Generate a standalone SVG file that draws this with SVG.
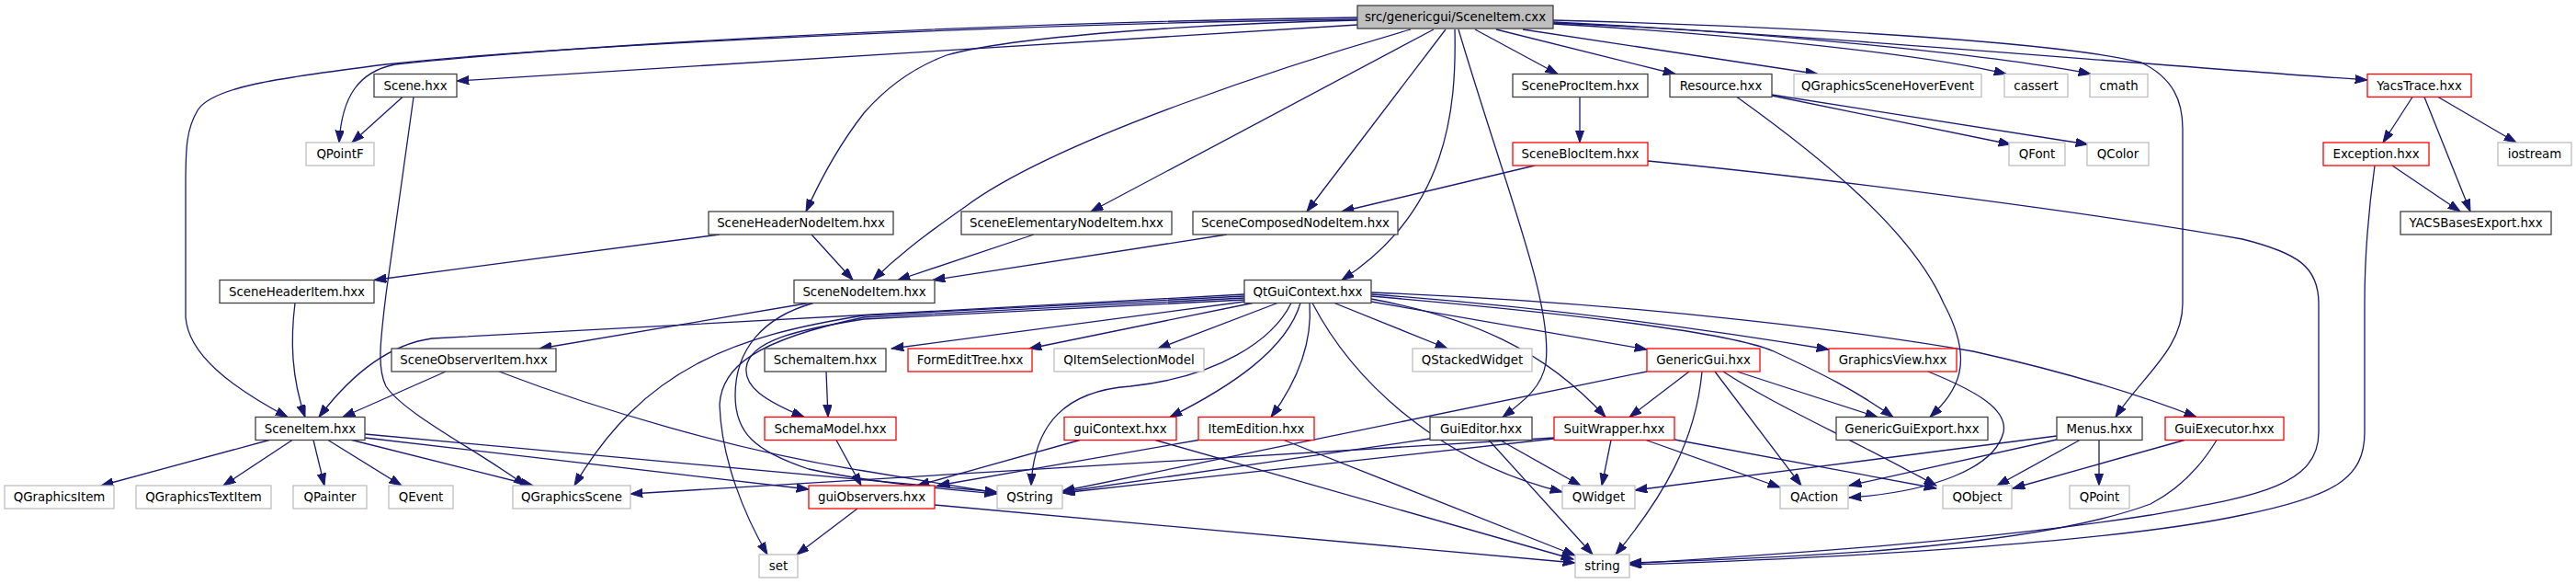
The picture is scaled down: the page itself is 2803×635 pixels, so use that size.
<svg xmlns="http://www.w3.org/2000/svg" width="2803" height="635" viewBox="0 0 2803 635">
<style>
.node rect{fill:#ffffff;stroke-width:1.3}
.b rect{stroke:#404040}
.g rect{stroke:#bfbfbf}
.r rect{stroke:#ff0000}
.root rect{fill:#bfbfbf;stroke:#404040}
.node text{font-family:"DejaVu Sans","Liberation Sans",sans-serif;font-size:13.33px;text-anchor:middle;fill:#000000}
#edges path{fill:none;stroke:#191970;stroke-width:1.3;marker-end:url(#ah)}
</style>
<defs>
<marker id="ah" markerUnits="userSpaceOnUse" markerWidth="14" markerHeight="10" refX="13.3" refY="4.67" orient="auto">
<path d="M0,0 L13.3,4.67 L0,9.33 z" fill="#191970" stroke="#191970" stroke-width="1"/>
</marker>
</defs>
<rect width="2803" height="635" fill="#ffffff"/>
<g id="edges">
<path d="M1477,21 C1100,26 600,50 420,70 C300,85 230,95 215,120 C203,140 202,160 202,200 L202,345 C205,385 250,420 313,453.5"/>
<path d="M1477,19 C1000,26 600,52 430,70 C390,78 372,105 369,155"/>
<path d="M1477,27 L497,88"/>
<path d="M1477,22 C1300,26 1100,40 1030,60 C990,75 960,100 940,123 C915,155 895,190 877,230"/>
<path d="M1535,32 C1420,65 1150,150 1050,225 C1000,260 975,280 950,304.5"/>
<path d="M1560,32 L1187,230"/>
<path d="M1573,32 L1422,230"/>
<path d="M1583,32 C1585,120 1575,230 1460,304.5"/>
<path d="M1587,32 C1640,210 1690,330 1682,395 C1678,420 1660,435 1635,453.5"/>
<path d="M1605,32 L1695,80.5"/>
<path d="M1628,32 L1823,80.5"/>
<path d="M1657,32 L1978,80.5"/>
<path d="M1690,26 C1900,38 2100,60 2183,80.5"/>
<path d="M1690,25 C1950,35 2200,65 2275,80.5"/>
<path d="M1690,24 C2000,40 2300,68 2576,87"/>
<path d="M1690,22 C2000,30 2250,48 2330,68 C2365,85 2375,110 2375,140 L2375,330 C2375,380 2330,410 2302,453.5"/>
<path d="M1793,175 C2000,195 2300,235 2440,260 C2500,275 2523,290 2523,330 L2523,470 C2523,530 2450,540 2340,560 C2150,590 1900,605 1773,613"/>
<path d="M2584,180 C2577,230 2573,280 2573,330 L2573,470 C2573,520 2540,540 2440,560 C2300,590 2000,607 1773,614"/>
<path d="M2412,478.5 C2390,515 2365,535 2340,548 C2200,600 1900,608 1773,612"/>
<path d="M2377,478.5 L2190,531"/>
<path d="M1492,318 C1800,330 2050,365 2147,382 C2250,405 2330,430 2390,453.5"/>
<path d="M1492,320 C1700,335 1880,362 1990,380"/>
<path d="M1492,322 C1700,340 1880,360 1930,382 C1980,405 2020,425 2060,453.5"/>
<path d="M1492,328 L1792,380"/>
<path d="M1492,325 C1600,345 1680,380 1747,453.5"/>
<path d="M1452,329.5 L1575,379"/>
<path d="M1428,329.5 C1470,410 1560,500 1700,535"/>
<path d="M1425,329.5 C1428,370 1415,410 1383,453.5"/>
<path d="M1415,329.5 C1400,380 1340,420 1273,453.5"/>
<path d="M1405,329.5 C1385,370 1325,410 1230,420 C1160,425 1125,460 1122,528"/>
<path d="M1390,329.5 L1260,379"/>
<path d="M1363,329.5 L1120,379"/>
<path d="M1354,328 L970,379"/>
<path d="M1354,326 L940,347 C870,358 815,370 812,400 C810,420 830,435 875,453.5"/>
<path d="M1354,324 L940,345 C820,370 785,400 783,440 C785,500 810,560 835,603"/>
<path d="M1354,322 L940,343 C800,365 700,400 625,528"/>
<path d="M1354,320 L470,368 C420,375 380,410 347,453.5"/>
<path d="M880,329.5 L587,379"/>
<path d="M885,329.5 C830,345 800,380 800,430 C800,470 820,490 880,510 C950,525 1030,532 1085,537"/>
<path d="M783,255 L407,304.5"/>
<path d="M883,255 L928,304.5"/>
<path d="M1125,255 L977,304.5"/>
<path d="M1335,255 L1015,304.5"/>
<path d="M1719,105.5 L1719,155"/>
<path d="M1670,180 L1460,230"/>
<path d="M1928,104 L2188,157"/>
<path d="M1928,103 L2272,157"/>
<path d="M1890,105.5 C1980,170 2080,250 2115,330 C2150,395 2130,425 2100,453.5"/>
<path d="M2625,105.5 L2593,155"/>
<path d="M2638,105.5 L2688,230"/>
<path d="M2653,105.5 L2738,155"/>
<path d="M2603,180 L2677,230"/>
<path d="M438,105.5 L383,155"/>
<path d="M450,105.5 L420,320 C414,370 410,400 420,420 C440,450 520,490 572,528"/>
<path d="M321,329.5 C316,370 317,410 332,453.5"/>
<path d="M485,404 L373,453.5"/>
<path d="M543,404 C650,445 800,490 940,512 L1085,536"/>
<path d="M293,478.5 L110,528"/>
<path d="M318,478.5 L243,528"/>
<path d="M341,478.5 L353,528"/>
<path d="M357,478.5 L437,528"/>
<path d="M383,478.5 L580,528"/>
<path d="M397,472 L1085,535"/>
<path d="M397,476 L880,532"/>
<path d="M899,404 L901,453.5"/>
<path d="M910,478.5 L937,528"/>
<path d="M1175,478.5 L998,528"/>
<path d="M1257,478.5 L1712,608"/>
<path d="M1304,478.5 L1020,528"/>
<path d="M1397,478.5 L1714,604"/>
<path d="M933,553 L867,603"/>
<path d="M1017,549 L1714,612"/>
<path d="M1632,478.5 L1720,528"/>
<path d="M1620,478.5 L1733,603"/>
<path d="M1556,477 L1156,535"/>
<path d="M1792,404 L1156,534"/>
<path d="M1838,404 L1773,453.5"/>
<path d="M1852,404 C1845,480 1810,540 1758,603"/>
<path d="M1890,404 L2043,453.5"/>
<path d="M1866,404 L1960,528"/>
<path d="M1875,404 C1930,440 2000,470 2107,528"/>
<path d="M1753,478.5 L1743,528"/>
<path d="M1691,477 L1156,536"/>
<path d="M1691,476 L686,537"/>
<path d="M1791,478.5 L1937,530"/>
<path d="M1822,478 L2107,531"/>
<path d="M2238,474 L1779,533"/>
<path d="M2238,478 L2012,528"/>
<path d="M2263,478.5 L2173,528"/>
<path d="M2284,478.5 L2284,528"/>
<path d="M2098,404 C2150,425 2185,445 2180,470 C2170,510 2100,535 2012,541"/>
</g>
<g id="n_root" class="node root"><rect x="1477" y="6" width="213" height="25"/><text x="1583.5" y="23.2">src/genericgui/SceneItem.cxx</text></g>
<g id="n_Scene" class="node b"><rect x="407" y="80.5" width="90" height="25"/><text x="452" y="97.7">Scene.hxx</text></g>
<g id="n_SceneProcItem" class="node b"><rect x="1646" y="80.5" width="147" height="25"/><text x="1719.5" y="97.7">SceneProcItem.hxx</text></g>
<g id="n_Resource" class="node b"><rect x="1817" y="80.5" width="111" height="25"/><text x="1872.5" y="97.7">Resource.hxx</text></g>
<g id="n_QGraphicsSceneHoverEvent" class="node g"><rect x="1952" y="80.5" width="204" height="25"/><text x="2054" y="97.7">QGraphicsSceneHoverEvent</text></g>
<g id="n_cassert" class="node g"><rect x="2181" y="80.5" width="69" height="25"/><text x="2215.5" y="97.7">cassert</text></g>
<g id="n_cmath" class="node g"><rect x="2274" y="80.5" width="63" height="25"/><text x="2305.5" y="97.7">cmath</text></g>
<g id="n_YacsTrace" class="node r"><rect x="2576" y="80.5" width="113" height="25"/><text x="2632.5" y="97.7">YacsTrace.hxx</text></g>
<g id="n_QPointF" class="node g"><rect x="333" y="155" width="74" height="25"/><text x="370" y="172.2">QPointF</text></g>
<g id="n_SceneBlocItem" class="node r"><rect x="1646" y="155" width="147" height="25"/><text x="1719.5" y="172.2">SceneBlocItem.hxx</text></g>
<g id="n_QFont" class="node g"><rect x="2186" y="155" width="61" height="25"/><text x="2216.5" y="172.2">QFont</text></g>
<g id="n_QColor" class="node g"><rect x="2271" y="155" width="67" height="25"/><text x="2304.5" y="172.2">QColor</text></g>
<g id="n_Exception" class="node r"><rect x="2528" y="155" width="115" height="25"/><text x="2585.5" y="172.2">Exception.hxx</text></g>
<g id="n_iostream" class="node g"><rect x="2718" y="155" width="80" height="25"/><text x="2758" y="172.2">iostream</text></g>
<g id="n_SceneHeaderNodeItem" class="node b"><rect x="771" y="230" width="201" height="25"/><text x="871.5" y="247.2">SceneHeaderNodeItem.hxx</text></g>
<g id="n_SceneElementaryNodeItem" class="node b"><rect x="1046" y="230" width="229" height="25"/><text x="1160.5" y="247.2">SceneElementaryNodeItem.hxx</text></g>
<g id="n_SceneComposedNodeItem" class="node b"><rect x="1298" y="230" width="223" height="25"/><text x="1409.5" y="247.2">SceneComposedNodeItem.hxx</text></g>
<g id="n_YACSBasesExport" class="node b"><rect x="2612" y="230" width="164" height="25"/><text x="2694" y="247.2">YACSBasesExport.hxx</text></g>
<g id="n_SceneHeaderItem" class="node b"><rect x="239" y="304.5" width="168" height="25"/><text x="323" y="321.7">SceneHeaderItem.hxx</text></g>
<g id="n_SceneNodeItem" class="node b"><rect x="864" y="304.5" width="153" height="25"/><text x="940.5" y="321.7">SceneNodeItem.hxx</text></g>
<g id="n_QtGuiContext" class="node b"><rect x="1354" y="304.5" width="138" height="25"/><text x="1423" y="321.7">QtGuiContext.hxx</text></g>
<g id="n_SceneObserverItem" class="node b"><rect x="426" y="379" width="179" height="25"/><text x="515.5" y="396.2">SceneObserverItem.hxx</text></g>
<g id="n_SchemaItem" class="node b"><rect x="832" y="379" width="132" height="25"/><text x="898" y="396.2">SchemaItem.hxx</text></g>
<g id="n_FormEditTree" class="node r"><rect x="988" y="379" width="135" height="25"/><text x="1055.5" y="396.2">FormEditTree.hxx</text></g>
<g id="n_QItemSelectionModel" class="node g"><rect x="1147" y="379" width="163" height="25"/><text x="1228.5" y="396.2">QItemSelectionModel</text></g>
<g id="n_QStackedWidget" class="node g"><rect x="1537" y="379" width="130" height="25"/><text x="1602" y="396.2">QStackedWidget</text></g>
<g id="n_GenericGui" class="node r"><rect x="1792" y="379" width="123" height="25"/><text x="1853.5" y="396.2">GenericGui.hxx</text></g>
<g id="n_GraphicsView" class="node r"><rect x="1990" y="379" width="139" height="25"/><text x="2059.5" y="396.2">GraphicsView.hxx</text></g>
<g id="n_SceneItem" class="node b"><rect x="278" y="453.5" width="119" height="25"/><text x="337.5" y="470.7">SceneItem.hxx</text></g>
<g id="n_SchemaModel" class="node r"><rect x="832" y="453.5" width="143" height="25"/><text x="903.5" y="470.7">SchemaModel.hxx</text></g>
<g id="n_guiContext" class="node r"><rect x="1158" y="453.5" width="122" height="25"/><text x="1219" y="470.7">guiContext.hxx</text></g>
<g id="n_ItemEdition" class="node r"><rect x="1304" y="453.5" width="126" height="25"/><text x="1367" y="470.7">ItemEdition.hxx</text></g>
<g id="n_GuiEditor" class="node b"><rect x="1556" y="453.5" width="111" height="25"/><text x="1611.5" y="470.7">GuiEditor.hxx</text></g>
<g id="n_SuitWrapper" class="node r"><rect x="1691" y="453.5" width="131" height="25"/><text x="1756.5" y="470.7">SuitWrapper.hxx</text></g>
<g id="n_GenericGuiExport" class="node b"><rect x="1998" y="453.5" width="165" height="25"/><text x="2080.5" y="470.7">GenericGuiExport.hxx</text></g>
<g id="n_Menus" class="node b"><rect x="2238" y="453.5" width="93" height="25"/><text x="2284.5" y="470.7">Menus.hxx</text></g>
<g id="n_GuiExecutor" class="node r"><rect x="2356" y="453.5" width="129" height="25"/><text x="2420.5" y="470.7">GuiExecutor.hxx</text></g>
<g id="n_QGraphicsItem" class="node g"><rect x="5" y="528" width="119" height="25"/><text x="64.5" y="545.2">QGraphicsItem</text></g>
<g id="n_QGraphicsTextItem" class="node g"><rect x="148" y="528" width="147" height="25"/><text x="221.5" y="545.2">QGraphicsTextItem</text></g>
<g id="n_QPainter" class="node g"><rect x="319" y="528" width="80" height="25"/><text x="359" y="545.2">QPainter</text></g>
<g id="n_QEvent" class="node g"><rect x="423" y="528" width="70" height="25"/><text x="458" y="545.2">QEvent</text></g>
<g id="n_QGraphicsScene" class="node g"><rect x="558" y="528" width="128" height="25"/><text x="622" y="545.2">QGraphicsScene</text></g>
<g id="n_guiObservers" class="node r"><rect x="880" y="528" width="137" height="25"/><text x="948.5" y="545.2">guiObservers.hxx</text></g>
<g id="n_QString" class="node g"><rect x="1085" y="528" width="71" height="25"/><text x="1120.5" y="545.2">QString</text></g>
<g id="n_QWidget" class="node g"><rect x="1700" y="528" width="79" height="25"/><text x="1739.5" y="545.2">QWidget</text></g>
<g id="n_QAction" class="node g"><rect x="1937" y="528" width="74" height="25"/><text x="1974" y="545.2">QAction</text></g>
<g id="n_QObject" class="node g"><rect x="2114" y="528" width="75" height="25"/><text x="2151.5" y="545.2">QObject</text></g>
<g id="n_QPoint" class="node g"><rect x="2252" y="528" width="65" height="25"/><text x="2284.5" y="545.2">QPoint</text></g>
<g id="n_set" class="node g"><rect x="826" y="603" width="42" height="25"/><text x="847" y="620.2">set</text></g>
<g id="n_string" class="node g"><rect x="1714" y="603" width="59" height="25"/><text x="1743.5" y="620.2">string</text></g>
</svg>
